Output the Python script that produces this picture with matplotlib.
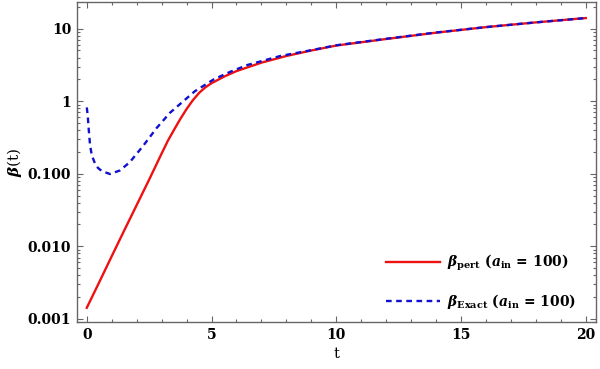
import matplotlib
matplotlib.use('Agg')
import matplotlib.pyplot as plt
from matplotlib.ticker import LogLocator, MultipleLocator, NullFormatter

# values
t_pert = [0.0, 0.5, 1.0, 1.5, 2.0, 2.5, 3.0, 3.25, 3.5, 3.75, 4.0, 4.25, 4.5, 4.75, 5.0,
          5.5, 6.0, 7.0, 8.0, 9.0, 10.0, 12.0, 14.0, 16.0, 18.0, 20.0]
beta_pert = [0.00142, 0.0032, 0.0073, 0.0165, 0.037, 0.083, 0.19, 0.285, 0.405, 0.57, 0.78,
             1.03, 1.3, 1.55, 1.77, 2.18, 2.6, 3.4, 4.2, 5.0, 5.85, 7.2, 8.8, 10.5, 12.2, 14.0]

t_exact = [0.0, 0.04, 0.08, 0.13, 0.2, 0.33, 0.45, 0.6, 0.93, 1.33, 1.73, 2.27, 2.8, 3.33,
           3.87, 4.33, 5.09, 5.76, 6.43, 7.76, 9.0, 10.0, 12.0, 14.0, 16.0, 18.0, 20.0]
beta_exact = [0.82, 0.62, 0.4, 0.25, 0.18, 0.138, 0.12, 0.109, 0.099, 0.111, 0.145, 0.245,
              0.427, 0.69, 1.0, 1.37, 2.0, 2.55, 3.15, 4.2, 5.05, 5.9, 7.25, 8.85, 10.5,
              12.2, 14.0]

y_ticks = [0.001, 0.01, 0.1, 1, 10]
y_ticklabels = ['0.001', '0.010', '0.100', '1', '10']
x_ticks = [0, 5, 10, 15, 20]

plt.rcParams['font.family'] = 'DejaVu Serif'
plt.rcParams['font.weight'] = 'bold'
plt.rcParams['mathtext.fontset'] = 'custom'
plt.rcParams['mathtext.rm'] = 'DejaVu Serif:bold'
plt.rcParams['mathtext.it'] = 'DejaVu Serif:italic:bold'
plt.rcParams['mathtext.bf'] = 'DejaVu Serif:bold'

fig = plt.figure(figsize=(6, 3.69), dpi=100)
ax = fig.add_axes([0.128, 0.127, 0.865, 0.8676])

ax.semilogy(t_pert, beta_pert, color='#ee1111', lw=1.7,
            label=r'$\beta_{\rm pert}$ ($a_{\rm in}$ = 100)')
ax.semilogy(t_exact, beta_exact, color='#1010d0', lw=1.7, dashes=(2.4, 1.9),
            label=r'$\beta_{\rm Exact}$ ($a_{\rm in}$ = 100)')

ax.set_xlim(-0.4, 20.4)
ax.set_ylim(0.0009, 23.3)

ax.set_xticks(x_ticks)
ax.xaxis.set_minor_locator(MultipleLocator(1))
ax.set_yticks(y_ticks)
ax.set_yticklabels(y_ticklabels)
ax.yaxis.set_minor_locator(LogLocator(base=10, subs=range(2, 10)))
ax.yaxis.set_minor_formatter(NullFormatter())

for s in ax.spines.values():
    s.set_color('#666666')
    s.set_linewidth(1.0)
ax.tick_params(which='both', direction='in', top=True, right=True, color='#666666',
               labelsize=10, width=0.8)
ax.tick_params(which='major', length=4.5, pad=4)
ax.tick_params(which='minor', length=2.5)

ax.set_xlabel('t', fontsize=10.5, labelpad=4)
ax.set_ylabel(r'$\beta$(t)', fontsize=11, labelpad=3)

ax.legend(loc='lower right', bbox_to_anchor=(0.985, -0.005), frameon=False, fontsize=10,
          handlelength=3.9, handletextpad=0.45, labelspacing=1.4)

fig.savefig('out.png', dpi=100)
